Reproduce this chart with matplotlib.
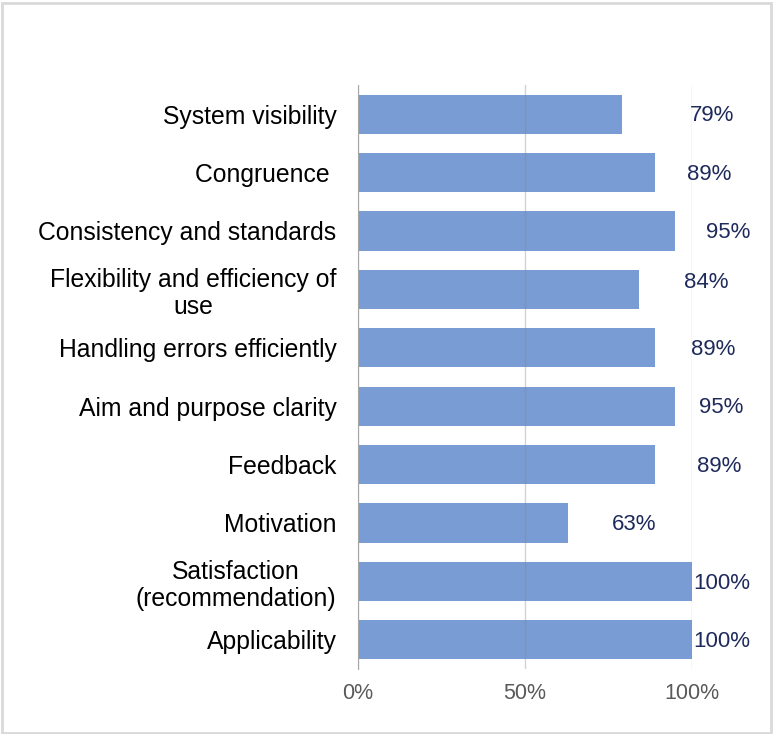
import matplotlib.pyplot as plt
from matplotlib.patches import Rectangle

# data (top to bottom)
categories = ["System visibility", "Congruence ", "Consistency and standards",
              "Flexibility and efficiency of\nuse", "Handling errors efficiently",
              "Aim and purpose clarity", "Feedback", "Motivation",
              "Satisfaction\n(recommendation)", "Applicability"]
values = [79, 89, 95, 84, 89, 95, 89, 63, 100, 100]
value_labels = ["79%", "89%", "95%", "84%", "89%", "95%", "89%", "63%", "100%", "100%"]
tick_values = [0, 50, 100]
tick_labels = ["0%", "50%", "100%"]

# label offsets past bar end (in %), the labels are scattered in the original
label_offsets = [20.4, 9.5, 9.2, 13.6, 10.7, 7.0, 12.5, 13.0, 0.3, 0.3]
label_dy = [0, 0, 0, -0.15, 0, 0, 0, 0, 0, 0]

plt.rcParams['font.family'] = ['Liberation Sans', 'DejaVu Sans']

fig = plt.figure(figsize=(7.73, 7.34), dpi=100)
ax = fig.add_axes([358/773, 65/734, 334/773, 584/734])

ypos = list(range(len(categories)))
ax.barh(ypos, values, height=0.67, color="#7A9CD4", zorder=2)

for i, v in enumerate(values):
    ax.text(v + label_offsets[i], i + label_dy[i] + 0.03, value_labels[i], va="center",
            ha="left", fontsize=16, color="#1F2A5C", zorder=4)

ax.set_xlim(0, 100)
ax.set_ylim(len(categories) - 0.5, -0.5)
ax.set_yticks(ypos)
ax.set_yticklabels(categories, fontsize=17.8, color="#000000", linespacing=1.17,
                   multialignment="center")
ax.set_xticks(tick_values)
ax.set_xticklabels(tick_labels, fontsize=15.5, color="#595959")
ax.tick_params(axis="y", length=0, pad=15.5)
ax.tick_params(axis="x", length=0, pad=10)

ax.grid(axis="x", color="#808080", alpha=0.35, linewidth=1, zorder=3)
ax.set_axisbelow(False)
for s in ["top", "right", "bottom"]:
    ax.spines[s].set_visible(False)
ax.spines["left"].set_color("#A6A6A6")
ax.spines["left"].set_zorder(3)

# outer frame of the chart area
fig.patches.append(Rectangle((0.002, 0.002), 0.996, 0.994, transform=fig.transFigure,
                             fill=False, edgecolor="#D9D9D9", linewidth=2))

fig.savefig("out.png", dpi=100)
